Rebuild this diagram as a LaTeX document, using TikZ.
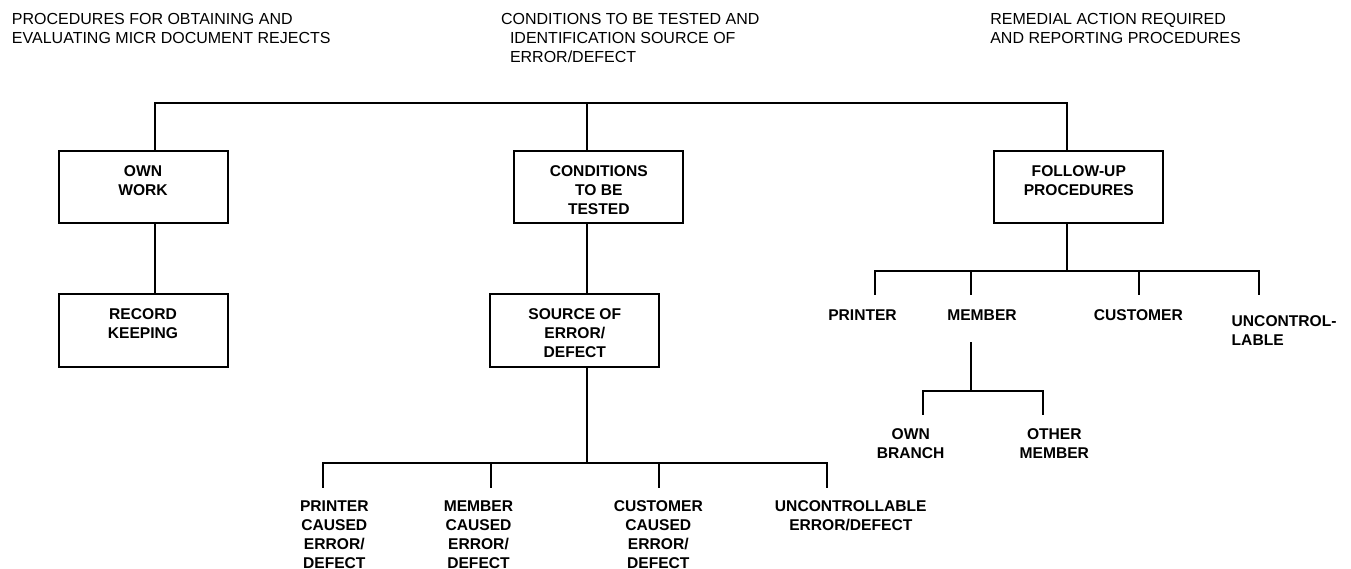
\documentclass[tikz,border=0pt]{standalone}
\usepackage{fontspec}
\setmainfont{Liberation Sans}
\begin{document}
\begin{tikzpicture}[x=1pt,y=-1pt, line width=2pt, line cap=rect,
  hdr/.style={anchor=north west, inner sep=0pt, align=left, font=\fontsize{16}{19}\selectfont},
  box/.style={draw, minimum width=169pt, minimum height=72pt, inner sep=0pt},
  lbl/.style={anchor=north, inner sep=0pt, align=center, font=\bfseries\fontsize{15.6}{19}\selectfont}]
\useasboundingbox (0,0) rectangle (1351,569);
% headers
\node[hdr] (h1) at (11,12.3) {PROCEDURES FOR OBTAINING AND\\EVALUATING MICR DOCUMENT REJECTS};
\node[hdr] (h2) at (500,12.3) {CONDITIONS TO BE TESTED AND\\\hspace*{9pt}IDENTIFICATION SOURCE OF\\\hspace*{9pt}ERROR/DEFECT};
\node[hdr] (h3) at (989.3,12.3) {REMEDIAL ACTION REQUIRED\\AND REPORTING PROCEDURES};
% boxes
\node[box] (own) at (143,186.7) {};
\node[box] (cond) at (598.8,186.7) {};
\node[box] (fu) at (1078.8,186.7) {};
\node[box, minimum height=72.7pt] (rec) at (143,330.7) {};
\node[box, minimum height=72.7pt] (src) at (574.8,330.7) {};
\node[lbl] (ownT) at ([yshift=-15pt]own.north) {OWN\\WORK};
\node[lbl] (condT) at ([yshift=-15pt]cond.north) {CONDITIONS\\TO BE\\TESTED};
\node[lbl] (fuT) at ([yshift=-15pt]fu.north) {FOLLOW-UP\\PROCEDURES};
\node[lbl] (recT) at ([yshift=-14pt]rec.north) {RECORD\\KEEPING};
\node[lbl] (srcT) at ([yshift=-14pt]src.north) {SOURCE OF\\ERROR/\\DEFECT};
% bottom labels
\node[lbl] (pce) at (334.3,499.3) {PRINTER\\CAUSED\\ERROR/\\DEFECT};
\node[lbl] (mce) at (478.5,499.3) {MEMBER\\CAUSED\\ERROR/\\DEFECT};
\node[lbl] (cce) at (658.3,499.3) {CUSTOMER\\CAUSED\\ERROR/\\DEFECT};
\node[lbl] (uce) at (850.8,499.3) {UNCONTROLLABLE\\ERROR/DEFECT};
% right labels
\node[lbl] (rp) at (862.5,308.3) {PRINTER};
\node[lbl] (rm) at (982,308.3) {MEMBER};
\node[lbl] (rc) at (1138.3,308.3) {CUSTOMER};
\node[lbl, anchor=north west, align=left] (ru) at (1230.7,315) {UNCONTROL-\\LABLE};
\node[lbl] (ob) at (910.7,427.7) {OWN\\BRANCH};
\node[lbl] (om) at (1054.3,427.7) {OTHER\\MEMBER};
% top bus
\coordinate (busL) at (155,103.3);
\coordinate (busM) at (586.7,103.3);
\coordinate (busR) at (1066.7,103.3);
\draw (own.north -| busL) -- (busL) -- (busR) -- (fu.north -| busR);
\draw (busM) -- (cond.north -| busM);
\draw (own.south -| busL) -- (rec.north -| busL);
\draw (cond.south -| busM) -- (src.north -| busM);
% bottom bus
\coordinate (bB) at (586.7,462.7);
\coordinate (b1) at (322.7,462.7);
\coordinate (b2) at (490.7,462.7);
\coordinate (b3) at (659,462.7);
\coordinate (b4) at (827,462.7);
\draw (src.south -| busM) -- (bB);
\draw (b1) -- (b4);
\foreach \b/\l in {b1/pce,b2/mce,b3/cce,b4/uce}
  \draw (\b) -- ([yshift=12.6pt]\l.north -| \b);
% right bus
\coordinate (r0) at (1066.7,271);
\coordinate (r1) at (874.7,271);
\coordinate (r2) at (970.7,271);
\coordinate (r3) at (1138.7,271);
\coordinate (r4) at (1259,271);
\draw (fu.south -| r0) -- (r0);
\draw (r1) -- (r4);
\foreach \b/\l in {r1/rp,r2/rm,r3/rc}
  \draw (\b) -- ([yshift=14pt]\l.north -| \b);
\draw (r4) -- ([yshift=20.7pt]ru.north -| r4);
% member sub-bus
\coordinate (m0) at (970.7,343.3);
\coordinate (m1) at (970.7,390.7);
\coordinate (s1) at (922.7,390.7);
\coordinate (s2) at (1042.7,390.7);
\draw (m0) -- (m1);
\draw (s1) -- (s2);
\draw (s1) -- ([yshift=13.7pt]ob.north -| s1);
\draw (s2) -- ([yshift=13.7pt]om.north -| s2);
\end{tikzpicture}
\end{document}
